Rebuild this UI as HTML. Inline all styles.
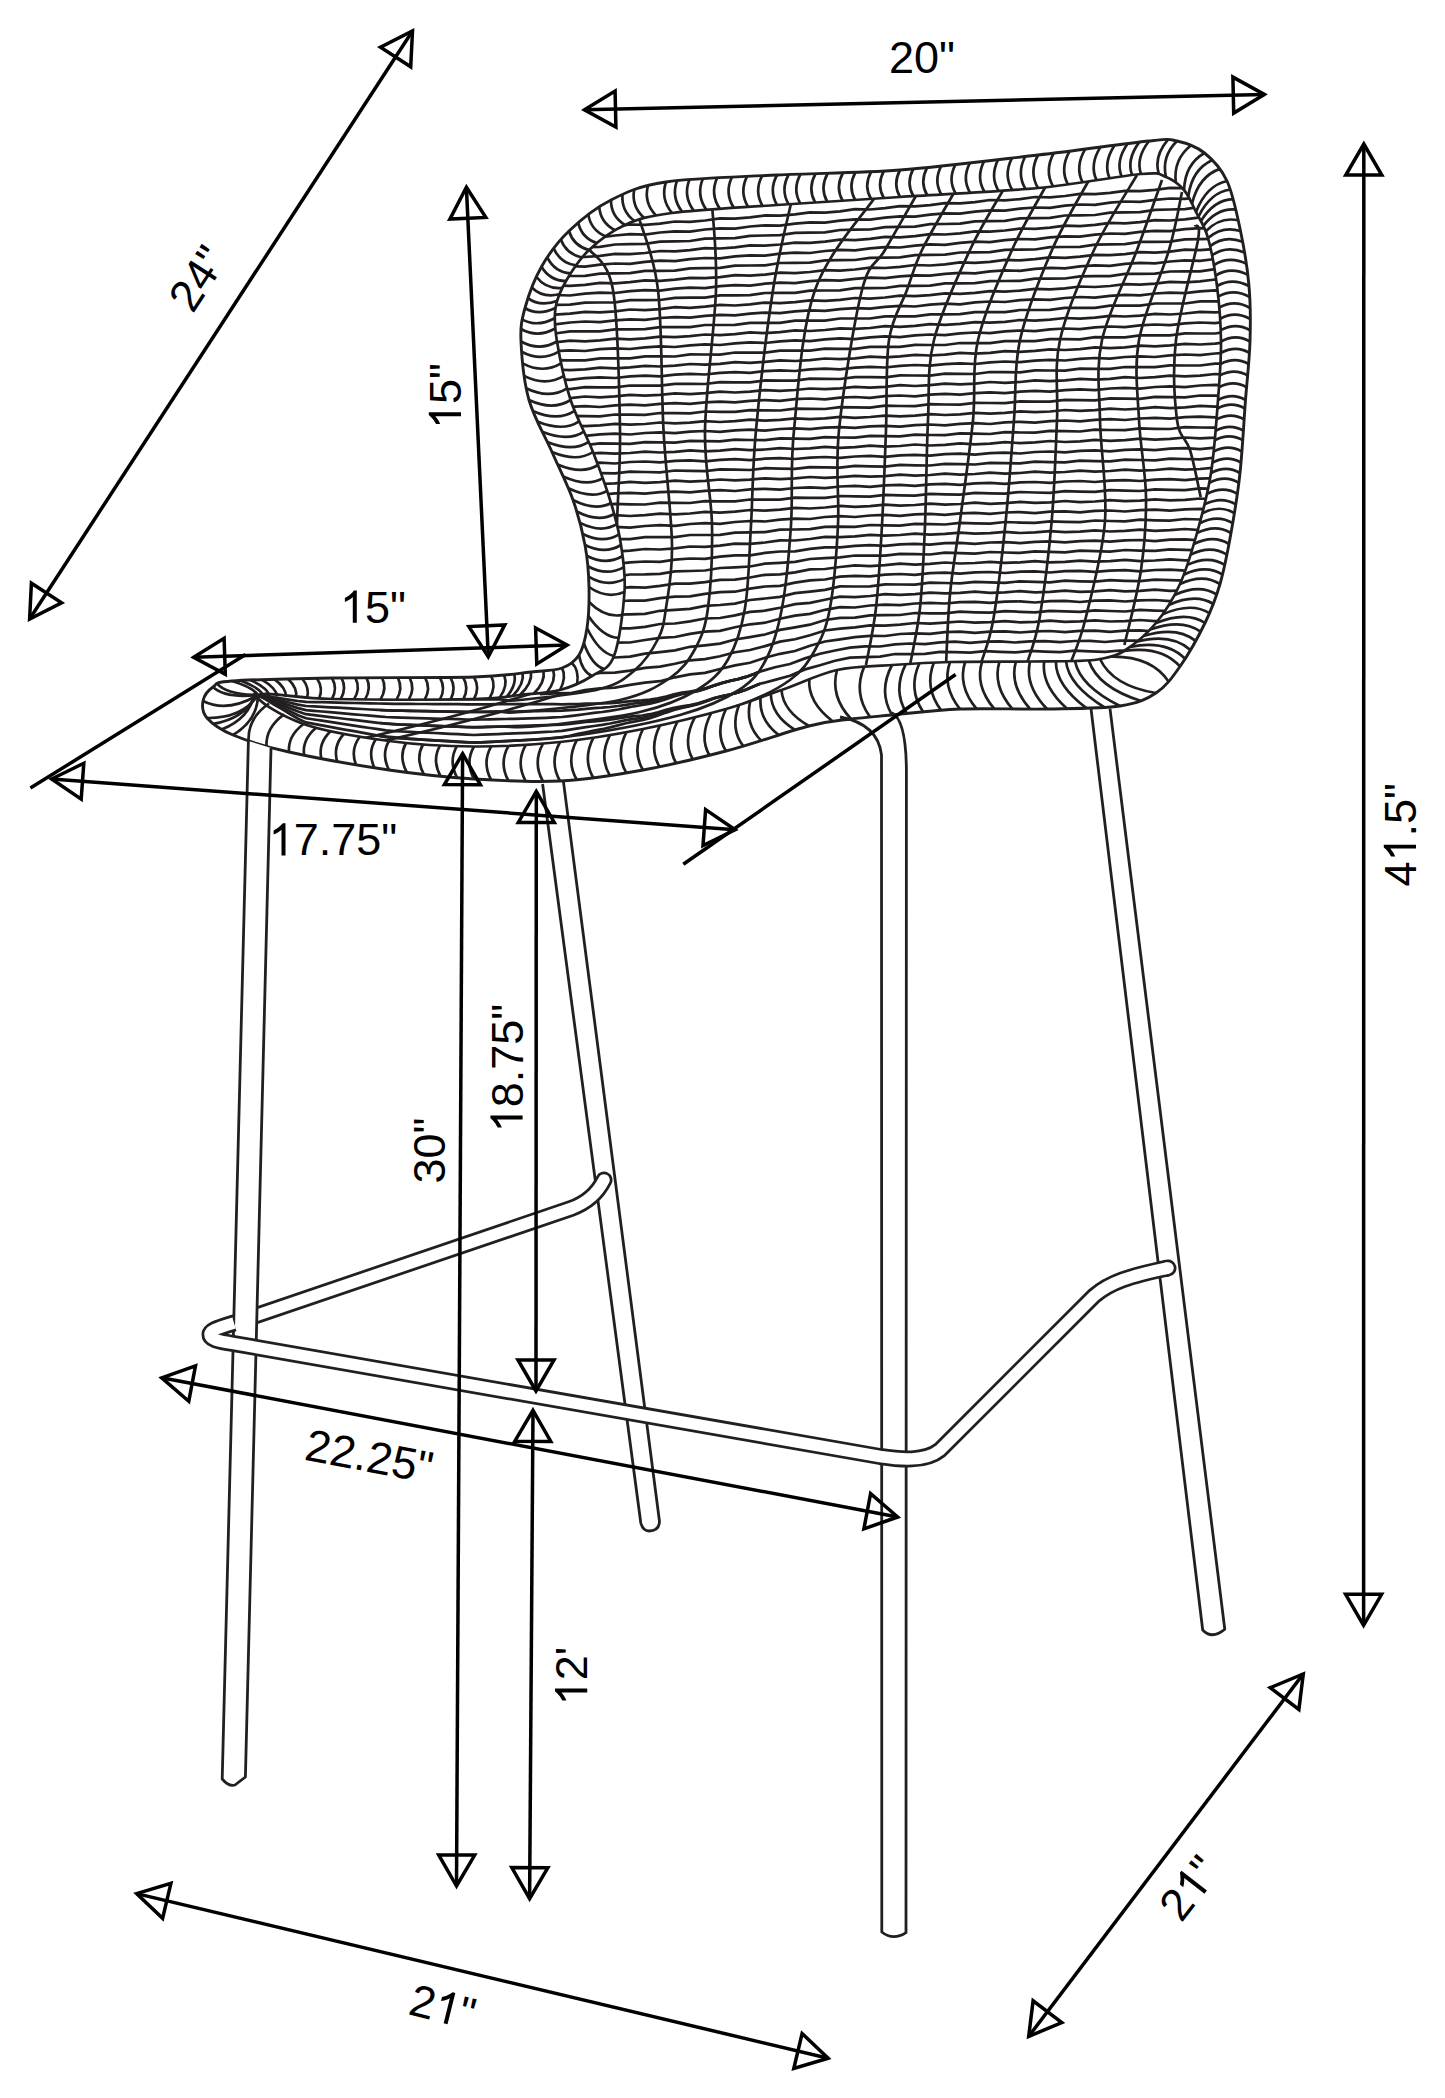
<!DOCTYPE html>
<html><head><meta charset="utf-8"><title>Bar stool dimensions</title>
<style>html,body{margin:0;padding:0;background:#fff;width:1445px;height:2098px;overflow:hidden}
svg{display:block;font-family:"Liberation Sans",sans-serif}</style></head>
<body><svg width="1445" height="2098" viewBox="0 0 1445 2098"><defs><clipPath id="cin"><path d="M258 695 C262.8 690.8 296 698.3 332 699 C368 699.7 442.7 699.7 474 699 C505.3 698.3 505.7 696.5 520 695 C534.3 693.5 548 693.2 560 690 C572 686.8 583 681.7 592 676 C601 670.3 608.6 670 614 656 C619.4 642 623.3 610.5 624.5 592 C625.7 573.5 623.2 559.8 621 545 C618.8 530.2 615.7 518.5 611 503 C606.3 487.5 599.7 469.2 593 452 C586.3 434.8 576.6 418.4 570.6 400 C564.6 381.6 559.5 356.8 557 341.5 C554.5 326.2 554 318.1 555.5 308 C557 297.9 560.4 290.7 566 281 C571.6 271.3 579.2 259.3 589 250 C598.8 240.7 611.2 231.2 625 225 C638.8 218.8 646.7 216.3 672 213 C697.3 209.7 739 207.7 777 205 C815 202.3 856.5 199.8 900 197 C943.5 194.2 997.8 191.8 1038 188 C1078.2 184.2 1119.7 175.8 1141 174 C1162.3 172.2 1158.8 174.3 1166 177 C1173.2 179.7 1179 184.2 1184 190 C1189 195.8 1192 204 1196 212 C1200 220 1204.5 225.7 1208 238 C1211.5 250.3 1214.8 268.8 1217 286 C1219.2 303.2 1220.8 322.5 1221 341.5 C1221.2 360.5 1219.7 378.1 1218 400 C1216.3 421.9 1214.5 450.8 1211 473 C1207.5 495.2 1202.2 514.5 1197 533 C1191.8 551.5 1186.8 569 1180 584 C1173.2 599 1165.3 611.8 1156 623 C1146.7 634.2 1133.3 645 1124 651 C1114.7 657 1108.2 657.3 1100 659 C1091.8 660.7 1086.7 660.6 1075 661 C1063.3 661.4 1050.8 661.3 1030 661.5 C1009.2 661.7 973 661.4 950 662 C927 662.6 910.8 663.7 892 665 C873.2 666.3 855.4 665.8 837 670 C818.6 674.2 800 683.5 781.5 690 C763 696.5 749.1 702.5 726 709 C702.9 715.5 670.7 723.5 643 729 C615.3 734.5 588.2 739.1 560 742 C531.8 744.9 502.5 746.7 474 746.5 C445.5 746.3 417.4 744.8 389 741 C360.6 737.2 325.3 731.7 303.5 724 C281.7 716.3 253.2 699.2 258 695Z"/></clipPath><clipPath id="cout"><path d="M232 681 C251.8 679.5 291.7 678.7 332 678 C372.3 677.3 440.8 678 474 677 C507.2 676 516.3 673.5 531 672 C545.7 670.5 554 670.8 562 668 C570 665.2 574.8 661.7 579 655 C583.2 648.3 585.3 639.3 587 628 C588.7 616.7 589.3 600.8 589 587 C588.7 573.2 587.7 559.5 585 545 C582.3 530.5 578.5 515.5 573 500 C567.5 484.5 559.3 468.7 552 452 C544.7 435.3 534.2 418.4 529 400 C523.8 381.6 521.7 356.8 521 341.5 C520.3 326.2 521.6 320.5 525 308 C528.4 295.5 534.2 279.5 541.5 266.7 C548.8 253.9 557.4 242.1 569 231 C580.6 219.9 594.8 208.2 611 200 C627.2 191.8 638.3 186.2 666 182 C693.7 177.8 738 177 777 175 C816 173 856.5 173.3 900 170 C943.5 166.7 996.5 159.8 1038 155 C1079.5 150.2 1125.8 143.3 1149 141 C1172.2 138.7 1167.8 139 1177 141 C1186.2 143 1196.2 146.3 1204.5 153 C1212.8 159.7 1221 168 1227 181 C1233 194 1236.8 213.5 1240.5 231 C1244.2 248.5 1247.4 267.6 1249 286 C1250.6 304.4 1250.6 322.5 1250 341.5 C1249.4 360.5 1247.2 378.1 1245.5 400 C1243.8 421.9 1242.4 450.8 1240 473 C1237.6 495.2 1234.3 514.5 1231 533 C1227.7 551.5 1224.3 569 1220 584 C1215.7 599 1211.7 609.2 1205 623 C1198.3 636.8 1188.2 654.8 1180 666.5 C1171.8 678.2 1166 686.4 1156 693 C1146 699.6 1138.2 703.3 1120 706 C1101.8 708.7 1073.7 708.5 1047 709 C1020.3 709.5 985.8 708 960 709 C934.2 710 910.2 713.3 892 715 C873.8 716.7 864.8 717.2 851 719 C837.2 720.8 829.8 720.7 809 726 C788.2 731.3 753.7 743.7 726 751 C698.3 758.3 670.7 765 643 770 C615.3 775 588.2 779.5 560 781 C531.8 782.5 502.5 780.8 474 779 C445.5 777.2 419.8 774.5 389 770 C358.2 765.5 315 757.8 289 752 C263 746.2 246.7 740.7 233 735 C219.3 729.3 212 723.7 207 718 C202 712.3 202 706.2 203 701 C204 695.8 208.2 690.3 213 687 C217.8 683.7 212.2 682.5 232 681Z"/></clipPath></defs><g clip-path="url(#cin)" fill="none" stroke="#231f20" stroke-width="2.7"><path d="M540 230.7 L555 230.9 L570 229.7 L585 227.6 L600 227.9 L615 226.6 L630 224.5 L645 224.8 L660 223.6 L675 221.5 L690 221.8 L705 220.5 L720 218.4 L735 218.7 L750 217.4 L765 215.4 L780 215.6 L795 214.4 L810 212.3 L825 212.6 L840 211.3 L855 209.2 L870 209.5 L885 208.2 L900 206.2 L915 206.4 L930 205.2 L945 203.1 L960 203.4 L975 202.1 L990 200 L1005 200.3 L1020 199.1 L1035 197 L1050 197.3 L1065 196 L1080 193.9 L1095 194.2 L1110 192.9 L1125 190.8 L1140 191.1 L1155 189.9 L1170 187.8 L1185 188.1 L1200 186.8 L1215 184.7 L1230 185"/><path d="M540 240.2 L555 240.5 L570 238.5 L585 237.2 L600 237.5 L615 235.5 L630 234.2 L645 234.6 L660 232.5 L675 231.3 L690 231.6 L705 229.5 L720 228.3 L735 228.6 L750 226.5 L765 225.3 L780 225.6 L795 223.6 L810 222.3 L825 222.6 L840 220.6 L855 219.4 L870 219.7 L885 217.6 L900 216.4 L915 216.7 L930 214.6 L945 213.4 L960 213.7 L975 211.7 L990 210.4 L1005 210.7 L1020 208.7 L1035 207.5 L1050 207.8 L1065 205.7 L1080 204.5 L1095 204.8 L1110 202.7 L1125 201.5 L1140 201.8 L1155 199.8 L1170 198.5 L1185 198.8 L1200 196.8 L1215 195.5 L1230 195.9"/><path d="M540 250 L555 249.7 L570 247.4 L585 247.1 L600 246.8 L615 244.5 L630 244.2 L645 243.9 L660 241.6 L675 241.3 L690 241 L705 238.7 L720 238.4 L735 238.1 L750 235.8 L765 235.5 L780 235.2 L795 232.9 L810 232.6 L825 232.4 L840 230 L855 229.7 L870 229.5 L885 227.1 L900 226.9 L915 226.6 L930 224.2 L945 224 L960 223.7 L975 221.3 L990 221.1 L1005 220.8 L1020 218.4 L1035 218.2 L1050 217.9 L1065 215.5 L1080 215.3 L1095 215 L1110 212.7 L1125 212.4 L1140 212.1 L1155 209.8 L1170 209.5 L1185 209.2 L1200 206.9 L1215 206.6 L1230 206.3"/><path d="M540 259.8 L555 258.6 L570 256.6 L585 257 L600 255.8 L615 253.8 L630 254.1 L645 253 L660 251 L675 251.3 L690 250.2 L705 248.2 L720 248.5 L735 247.4 L750 245.4 L765 245.7 L780 244.5 L795 242.6 L810 242.9 L825 241.7 L840 239.7 L855 240.1 L870 238.9 L885 236.9 L900 237.3 L915 236.1 L930 234.1 L945 234.5 L960 233.3 L975 231.3 L990 231.7 L1005 230.5 L1020 228.5 L1035 228.9 L1050 227.7 L1065 225.7 L1080 226.1 L1095 224.9 L1110 222.9 L1125 223.3 L1140 222.1 L1155 220.1 L1170 220.5 L1185 219.3 L1200 217.3 L1215 217.7 L1230 216.5"/><path d="M540 269.3 L555 267.3 L570 266.2 L585 266.6 L600 264.6 L615 263.5 L630 263.9 L645 261.9 L660 260.7 L675 261.1 L690 259.2 L705 258 L720 258.4 L735 256.4 L750 255.3 L765 255.7 L780 253.7 L795 252.6 L810 253 L825 251 L840 249.9 L855 250.3 L870 248.3 L885 247.1 L900 247.5 L915 245.6 L930 244.4 L945 244.8 L960 242.8 L975 241.7 L990 242.1 L1005 240.1 L1020 239 L1035 239.4 L1050 237.4 L1065 236.3 L1080 236.6 L1095 234.7 L1110 233.5 L1125 233.9 L1140 231.9 L1155 230.8 L1170 231.2 L1185 229.2 L1200 228.1 L1215 228.5 L1230 226.5"/><path d="M540 278.5 L555 276.2 L570 276 L585 275.8 L600 273.6 L615 273.4 L630 273.2 L645 270.9 L660 270.8 L675 270.6 L690 268.3 L705 268.1 L720 267.9 L735 265.7 L750 265.5 L765 265.3 L780 263 L795 262.9 L810 262.7 L825 260.4 L840 260.2 L855 260 L870 257.8 L885 257.6 L900 257.4 L915 255.1 L930 254.9 L945 254.7 L960 252.5 L975 252.3 L990 252.1 L1005 249.8 L1020 249.7 L1035 249.5 L1050 247.2 L1065 247 L1080 246.8 L1095 244.6 L1110 244.4 L1125 244.2 L1140 241.9 L1155 241.8 L1170 241.6 L1185 239.3 L1200 239.1 L1215 238.9 L1230 236.7"/><path d="M540 287.3 L555 285.4 L570 285.9 L585 284.8 L600 282.9 L615 283.3 L630 282.2 L645 280.3 L660 280.8 L675 279.7 L690 277.8 L705 278.2 L720 277.1 L735 275.2 L750 275.7 L765 274.6 L780 272.7 L795 273.1 L810 272 L825 270.1 L840 270.6 L855 269.5 L870 267.6 L885 268 L900 266.9 L915 265 L930 265.5 L945 264.4 L960 262.4 L975 262.9 L990 261.8 L1005 259.9 L1020 260.4 L1035 259.2 L1050 257.3 L1065 257.8 L1080 256.7 L1095 254.8 L1110 255.2 L1125 254.1 L1140 252.2 L1155 252.7 L1170 251.6 L1185 249.7 L1200 250.1 L1215 249 L1230 247.1"/><path d="M540 296.1 L555 295 L570 295.5 L585 293.6 L600 292.6 L615 293 L630 291.1 L645 290.1 L660 290.6 L675 288.7 L690 287.6 L705 288.1 L720 286.2 L735 285.1 L750 285.6 L765 283.7 L780 282.7 L795 283.1 L810 281.2 L825 280.2 L840 280.7 L855 278.8 L870 277.7 L885 278.2 L900 276.3 L915 275.3 L930 275.7 L945 273.8 L960 272.8 L975 273.3 L990 271.4 L1005 270.3 L1020 270.8 L1035 268.9 L1050 267.8 L1065 268.3 L1080 266.4 L1095 265.4 L1110 265.8 L1125 263.9 L1140 262.9 L1155 263.4 L1170 261.5 L1185 260.4 L1200 260.9 L1215 259 L1230 258"/><path d="M540 305 L555 304.9 L570 304.7 L585 302.6 L600 302.5 L615 302.4 L630 300.2 L645 300.1 L660 300 L675 297.8 L690 297.7 L705 297.6 L720 295.4 L735 295.3 L750 295.2 L765 293 L780 292.9 L795 292.8 L810 290.6 L825 290.5 L840 290.4 L855 288.2 L870 288.1 L885 288 L900 285.8 L915 285.8 L930 285.6 L945 283.4 L960 283.4 L975 283.2 L990 281.1 L1005 281 L1020 280.9 L1035 278.7 L1050 278.6 L1065 278.5 L1080 276.3 L1095 276.2 L1110 276.1 L1125 273.9 L1140 273.8 L1155 273.7 L1170 271.5 L1185 271.4 L1200 271.3 L1215 269.1 L1230 269"/><path d="M540 314.2 L555 314.7 L570 313.7 L585 311.9 L600 312.4 L615 311.4 L630 309.5 L645 310.1 L660 309.1 L675 307.2 L690 307.8 L705 306.7 L720 304.9 L735 305.5 L750 304.4 L765 302.6 L780 303.2 L795 302.1 L810 300.3 L825 300.9 L840 299.8 L855 298 L870 298.6 L885 297.5 L900 295.7 L915 296.2 L930 295.2 L945 293.4 L960 293.9 L975 292.9 L990 291.1 L1005 291.6 L1020 290.6 L1035 288.8 L1050 289.3 L1065 288.3 L1080 286.5 L1095 287 L1110 286 L1125 284.2 L1140 284.7 L1155 283.7 L1170 281.9 L1185 282.4 L1200 281.4 L1215 279.5 L1230 280.1"/><path d="M540 323.8 L555 324.3 L570 322.5 L585 321.5 L600 322.1 L615 320.3 L630 319.3 L645 319.8 L660 318 L675 317.1 L690 317.6 L705 315.8 L720 314.8 L735 315.4 L750 313.6 L765 312.6 L780 313.2 L795 311.3 L810 310.4 L825 310.9 L840 309.1 L855 308.2 L870 308.7 L885 306.9 L900 305.9 L915 306.5 L930 304.7 L945 303.7 L960 304.3 L975 302.4 L990 301.5 L1005 302 L1020 300.2 L1035 299.3 L1050 299.8 L1065 298 L1080 297 L1095 297.6 L1110 295.8 L1125 294.8 L1140 295.3 L1155 293.5 L1170 292.6 L1185 293.1 L1200 291.3 L1215 290.3 L1230 290.9"/><path d="M540 333.6 L555 333.5 L570 331.4 L585 331.4 L600 331.4 L615 329.3 L630 329.3 L645 329.2 L660 327.1 L675 327.1 L690 327.1 L705 325 L720 325 L735 324.9 L750 322.8 L765 322.8 L780 322.8 L795 320.7 L810 320.7 L825 320.6 L840 318.5 L855 318.5 L870 318.5 L885 316.4 L900 316.4 L915 316.4 L930 314.3 L945 314.3 L960 314.2 L975 312.1 L990 312.1 L1005 312.1 L1020 310 L1035 310 L1050 309.9 L1065 307.8 L1080 307.8 L1095 307.8 L1110 305.7 L1125 305.7 L1140 305.6 L1155 303.5 L1170 303.5 L1185 303.5 L1200 301.4 L1215 301.4 L1230 301.3"/><path d="M540 343.4 L555 342.4 L570 340.7 L585 341.3 L600 340.4 L615 338.6 L630 339.3 L645 338.3 L660 336.6 L675 337.2 L690 336.2 L705 334.5 L720 335.1 L735 334.2 L750 332.4 L765 333.1 L780 332.1 L795 330.4 L810 331 L825 330 L840 328.3 L855 328.9 L870 328 L885 326.2 L900 326.9 L915 325.9 L930 324.2 L945 324.8 L960 323.8 L975 322.1 L990 322.7 L1005 321.8 L1020 320 L1035 320.7 L1050 319.7 L1065 318 L1080 318.6 L1095 317.6 L1110 315.9 L1125 316.5 L1140 315.6 L1155 313.8 L1170 314.5 L1185 313.5 L1200 311.8 L1215 312.4 L1230 311.4"/><path d="M540 353 L555 351.2 L570 350.4 L585 351 L600 349.2 L615 348.4 L630 349 L645 347.3 L660 346.4 L675 347 L690 345.3 L705 344.4 L720 345 L735 343.3 L750 342.4 L765 343 L780 341.3 L795 340.4 L810 341.1 L825 339.3 L840 338.4 L855 339.1 L870 337.3 L885 336.4 L900 337.1 L915 335.3 L930 334.5 L945 335.1 L960 333.3 L975 332.5 L990 333.1 L1005 331.3 L1020 330.5 L1035 331.1 L1050 329.4 L1065 328.5 L1080 329.1 L1095 327.4 L1110 326.5 L1125 327.1 L1140 325.4 L1155 324.5 L1170 325.1 L1185 323.4 L1200 322.5 L1215 323.1 L1230 321.4"/><path d="M540 362.2 L555 360.2 L570 360.3 L585 360.3 L600 358.3 L615 358.4 L630 358.4 L645 356.4 L660 356.4 L675 356.5 L690 354.4 L705 354.5 L720 354.6 L735 352.5 L750 352.6 L765 352.6 L780 350.6 L795 350.7 L810 350.7 L825 348.7 L840 348.8 L855 348.8 L870 346.8 L885 346.9 L900 346.9 L915 344.9 L930 345 L945 345 L960 343 L975 343.1 L990 343.1 L1005 341.1 L1020 341.2 L1035 341.2 L1050 339.2 L1065 339.2 L1080 339.3 L1095 337.2 L1110 337.3 L1125 337.4 L1140 335.3 L1155 335.4 L1170 335.4 L1185 333.4 L1200 333.5 L1215 333.5 L1230 331.5"/><path d="M540 371.1 L555 369.5 L570 370.2 L585 369.3 L600 367.6 L615 368.3 L630 367.4 L645 365.8 L660 366.5 L675 365.6 L690 364 L705 364.7 L720 363.8 L735 362.1 L750 362.8 L765 361.9 L780 360.3 L795 361 L810 360.1 L825 358.5 L840 359.2 L855 358.3 L870 356.6 L885 357.3 L900 356.4 L915 354.8 L930 355.5 L945 354.6 L960 352.9 L975 353.7 L990 352.8 L1005 351.1 L1020 351.8 L1035 350.9 L1050 349.3 L1065 350 L1080 349.1 L1095 347.4 L1110 348.2 L1125 347.3 L1140 345.6 L1155 346.3 L1170 345.4 L1185 343.8 L1200 344.5 L1215 343.6 L1230 341.9"/><path d="M540 379.9 L555 379.1 L570 379.8 L585 378.1 L600 377.3 L615 378 L630 376.4 L645 375.6 L660 376.3 L675 374.6 L690 373.8 L705 374.5 L720 372.9 L735 372.1 L750 372.8 L765 371.1 L780 370.3 L795 371 L810 369.3 L825 368.6 L840 369.3 L855 367.6 L870 366.8 L885 367.5 L900 365.8 L915 365 L930 365.7 L945 364.1 L960 363.3 L975 364 L990 362.3 L1005 361.5 L1020 362.2 L1035 360.6 L1050 359.8 L1065 360.5 L1080 358.8 L1095 358 L1110 358.7 L1125 357 L1140 356.3 L1155 357 L1170 355.3 L1185 354.5 L1200 355.2 L1215 353.5 L1230 352.7"/><path d="M540 388.8 L555 389 L570 389.1 L585 387.1 L600 387.3 L615 387.4 L630 385.5 L645 385.6 L660 385.7 L675 383.8 L690 383.9 L705 384 L720 382.1 L735 382.3 L750 382.4 L765 380.4 L780 380.6 L795 380.7 L810 378.7 L825 378.9 L840 379 L855 377.1 L870 377.2 L885 377.3 L900 375.4 L915 375.5 L930 375.6 L945 373.7 L960 373.9 L975 374 L990 372 L1005 372.2 L1020 372.3 L1035 370.3 L1050 370.5 L1065 370.6 L1080 368.6 L1095 368.8 L1110 368.9 L1125 367 L1140 367.1 L1155 367.2 L1170 365.3 L1185 365.5 L1200 365.5 L1215 363.6 L1230 363.8"/><path d="M540 398.1 L555 398.9 L570 398.1 L585 396.5 L600 397.3 L615 396.4 L630 394.9 L645 395.7 L660 394.8 L675 393.3 L690 394.1 L705 393.2 L720 391.7 L735 392.5 L750 391.6 L765 390.1 L780 390.8 L795 390 L810 388.5 L825 389.2 L840 388.4 L855 386.8 L870 387.6 L885 386.8 L900 385.2 L915 386 L930 385.2 L945 383.6 L960 384.4 L975 383.6 L990 382 L1005 382.8 L1020 382 L1035 380.4 L1050 381.2 L1065 380.4 L1080 378.8 L1095 379.6 L1110 378.8 L1125 377.2 L1140 378 L1155 377.2 L1170 375.6 L1185 376.4 L1200 375.6 L1215 374 L1230 374.8"/><path d="M540 407.7 L555 408.5 L570 406.9 L585 406.2 L600 407 L615 405.4 L630 404.7 L645 405.4 L660 403.8 L675 403.1 L690 403.9 L705 402.3 L720 401.6 L735 402.4 L750 400.8 L765 400.1 L780 400.9 L795 399.2 L810 398.5 L825 399.3 L840 397.7 L855 397 L870 397.8 L885 396.2 L900 395.5 L915 396.3 L930 394.6 L945 393.9 L960 394.7 L975 393.1 L990 392.4 L1005 393.2 L1020 391.6 L1035 390.9 L1050 391.7 L1065 390.1 L1080 389.4 L1095 390.1 L1110 388.5 L1125 387.8 L1140 388.6 L1155 387 L1170 386.3 L1185 387.1 L1200 385.5 L1215 384.8 L1230 385.5"/><path d="M540 417.6 L555 417.8 L570 415.9 L585 416.2 L600 416.3 L615 414.5 L630 414.7 L645 414.9 L660 413 L675 413.2 L690 413.4 L705 411.5 L720 411.8 L735 411.9 L750 410.1 L765 410.3 L780 410.5 L795 408.6 L810 408.9 L825 409 L840 407.2 L855 407.4 L870 407.6 L885 405.7 L900 406 L915 406.1 L930 404.2 L945 404.5 L960 404.7 L975 402.8 L990 403 L1005 403.2 L1020 401.3 L1035 401.6 L1050 401.7 L1065 399.9 L1080 400.1 L1095 400.3 L1110 398.4 L1125 398.7 L1140 398.8 L1155 396.9 L1170 397.2 L1185 397.4 L1200 395.5 L1215 395.7 L1230 395.9"/><path d="M540 427.5 L555 426.7 L570 425.3 L585 426.1 L600 425.4 L615 423.9 L630 424.7 L645 424 L660 422.5 L675 423.3 L690 422.6 L705 421.1 L720 422 L735 421.2 L750 419.7 L765 420.6 L780 419.8 L795 418.3 L810 419.2 L825 418.4 L840 416.9 L855 417.8 L870 417 L885 415.6 L900 416.4 L915 415.7 L930 414.2 L945 415 L960 414.3 L975 412.8 L990 413.6 L1005 412.9 L1020 411.4 L1035 412.2 L1050 411.5 L1065 410 L1080 410.9 L1095 410.1 L1110 408.6 L1125 409.5 L1140 408.7 L1155 407.2 L1170 408.1 L1185 407.3 L1200 405.8 L1215 406.7 L1230 405.9"/><path d="M540 437.1 L555 435.6 L570 435 L585 435.8 L600 434.3 L615 433.7 L630 434.5 L645 433 L660 432.3 L675 433.2 L690 431.6 L705 431 L720 431.9 L735 430.3 L750 429.7 L765 430.6 L780 429 L795 428.4 L810 429.2 L825 427.7 L840 427.1 L855 427.9 L870 426.4 L885 425.8 L900 426.6 L915 425.1 L930 424.5 L945 425.3 L960 423.8 L975 423.1 L990 424 L1005 422.4 L1020 421.8 L1035 422.7 L1050 421.1 L1065 420.5 L1080 421.4 L1095 419.8 L1110 419.2 L1125 420 L1140 418.5 L1155 417.9 L1170 418.7 L1185 417.2 L1200 416.6 L1215 417.4 L1230 415.9"/><path d="M540 446.4 L555 444.6 L570 444.9 L585 445.1 L600 443.4 L615 443.7 L630 443.9 L645 442.1 L660 442.4 L675 442.7 L690 440.9 L705 441.2 L720 441.4 L735 439.6 L750 440 L765 440.2 L780 438.4 L795 438.7 L810 438.9 L825 437.1 L840 437.5 L855 437.7 L870 435.9 L885 436.2 L900 436.4 L915 434.6 L930 435 L945 435.2 L960 433.4 L975 433.7 L990 434 L1005 432.2 L1020 432.5 L1035 432.7 L1050 430.9 L1065 431.2 L1080 431.5 L1095 429.7 L1110 430 L1125 430.2 L1140 428.4 L1155 428.8 L1170 429 L1185 427.2 L1200 427.5 L1215 427.7 L1230 425.9"/><path d="M540 455.3 L555 453.9 L570 454.9 L585 454.2 L600 452.8 L615 453.7 L630 453 L645 451.6 L660 452.5 L675 451.8 L690 450.4 L705 451.3 L720 450.7 L735 449.2 L750 450.2 L765 449.5 L780 448.1 L795 449 L810 448.3 L825 446.9 L840 447.8 L855 447.1 L870 445.7 L885 446.6 L900 446 L915 444.5 L930 445.5 L945 444.8 L960 443.4 L975 444.3 L990 443.6 L1005 442.2 L1020 443.1 L1035 442.4 L1050 441 L1065 442 L1080 441.3 L1095 439.8 L1110 440.8 L1125 440.1 L1140 438.7 L1155 439.6 L1170 438.9 L1185 437.5 L1200 438.4 L1215 437.7 L1230 436.3"/><path d="M540 464.2 L555 463.7 L570 464.6 L585 463.1 L600 462.6 L615 463.5 L630 462 L645 461.5 L660 462.4 L675 460.9 L690 460.4 L705 461.3 L720 459.8 L735 459.2 L750 460.2 L765 458.7 L780 458.1 L795 459 L810 457.6 L825 457 L840 457.9 L855 456.5 L870 455.9 L885 456.8 L900 455.4 L915 454.8 L930 455.7 L945 454.2 L960 453.7 L975 454.6 L990 453.1 L1005 452.6 L1020 453.5 L1035 452 L1050 451.5 L1065 452.4 L1080 450.9 L1095 450.4 L1110 451.3 L1125 449.8 L1140 449.3 L1155 450.2 L1170 448.7 L1185 448.2 L1200 449.1 L1215 447.6 L1230 447.1"/><path d="M540 473.8 L555 474.2 L570 474.5 L585 472.7 L600 473.1 L615 473.4 L630 471.6 L645 472 L660 472.3 L675 470.5 L690 470.9 L705 471.1 L720 469.4 L735 469.7 L750 470 L765 468.2 L780 468.6 L795 468.8 L810 467.1 L825 467.4 L840 467.7 L855 465.9 L870 466.3 L885 466.6 L900 464.9 L915 465.3 L930 465.5 L945 463.8 L960 464.2 L975 464.5 L990 462.8 L1005 463.2 L1020 463.4 L1035 461.7 L1050 462.1 L1065 462.4 L1080 460.7 L1095 461.1 L1110 461.3 L1125 459.6 L1140 460 L1155 460.3 L1170 458.6 L1185 459 L1200 459.3 L1215 457.5 L1230 457.9"/><path d="M540 484.1 L555 485.1 L570 484.4 L585 483 L600 484 L615 483.3 L630 481.9 L645 482.8 L660 482.1 L675 480.7 L690 481.7 L705 480.9 L720 479.5 L735 480.4 L750 479.7 L765 478.3 L780 479.2 L795 478.4 L810 477 L825 477.8 L840 477.1 L855 475.8 L870 476.7 L885 476.1 L900 474.7 L915 475.7 L930 475 L945 473.7 L960 474.6 L975 474 L990 472.7 L1005 473.7 L1020 473 L1035 471.7 L1050 472.7 L1065 472 L1080 470.7 L1095 471.7 L1110 471 L1125 469.7 L1140 470.7 L1155 470 L1170 468.7 L1185 469.7 L1200 469 L1215 467.7 L1230 468.7"/><path d="M540 495.1 L555 496.1 L570 494.6 L585 494 L600 494.9 L615 493.4 L630 492.8 L645 493.7 L660 492.2 L675 491.6 L690 492.4 L705 490.8 L720 490.2 L735 491 L750 489.4 L765 488.8 L780 489.6 L795 488 L810 487.3 L825 488.1 L840 486.5 L855 485.9 L870 486.9 L885 485.4 L900 484.9 L915 485.8 L930 484.4 L945 483.9 L960 484.8 L975 483.4 L990 482.9 L1005 483.9 L1020 482.4 L1035 482 L1050 482.9 L1065 481.5 L1080 481 L1095 482 L1110 480.6 L1125 480.1 L1140 481 L1155 479.6 L1170 479.1 L1185 480.1 L1200 478.7 L1215 478.2 L1230 479.2"/><path d="M540 506.7 L555 507 L570 505.2 L585 505.6 L600 505.8 L615 503.9 L630 504.3 L645 504.5 L660 502.6 L675 502.9 L690 503 L705 501.1 L720 501.4 L735 501.4 L750 499.5 L765 499.7 L780 499.7 L795 497.7 L810 497.9 L825 497.9 L840 496 L855 496.4 L870 496.6 L885 494.9 L900 495.3 L915 495.6 L930 493.8 L945 494.3 L960 494.6 L975 492.9 L990 493.4 L1005 493.7 L1020 492 L1035 492.5 L1050 492.8 L1065 491.1 L1080 491.6 L1095 491.9 L1110 490.2 L1125 490.7 L1140 491 L1155 489.3 L1170 489.8 L1185 490.1 L1200 488.4 L1215 488.9 L1230 489.2"/><path d="M540 518.6 L555 517.9 L570 516.5 L585 517.4 L600 516.6 L615 515.1 L630 516 L645 515.2 L660 513.6 L675 514.3 L690 513.5 L705 511.9 L720 512.6 L735 511.7 L750 510 L765 510.6 L780 509.6 L795 507.9 L810 508.5 L825 507.5 L840 505.9 L855 506.8 L870 506.1 L885 504.7 L900 505.7 L915 505 L930 503.7 L945 504.6 L960 504 L975 502.7 L990 503.8 L1005 503.2 L1020 501.9 L1035 502.9 L1050 502.3 L1065 501 L1080 502.1 L1095 501.5 L1110 500.2 L1125 501.2 L1140 500.6 L1155 499.3 L1170 500.4 L1185 499.8 L1200 498.5 L1215 499.5 L1230 498.9"/><path d="M540 530.5 L555 529 L570 528.4 L585 529.2 L600 527.5 L615 526.9 L630 527.6 L645 526 L660 525.2 L675 525.8 L690 524 L705 523.2 L720 523.9 L735 522 L750 521 L765 521.5 L780 519.6 L795 518.6 L810 519 L825 517 L840 516.1 L855 517 L870 515.5 L885 514.9 L900 515.8 L915 514.3 L930 513.8 L945 514.8 L960 513.3 L975 512.9 L990 513.9 L1005 512.5 L1020 512.1 L1035 513.1 L1050 511.7 L1065 511.3 L1080 512.3 L1095 510.9 L1110 510.5 L1125 511.5 L1140 510.1 L1155 509.7 L1170 510.7 L1185 509.3 L1200 508.9 L1215 509.9 L1230 508.5"/><path d="M540 542.3 L555 540.6 L570 540.9 L585 540.9 L600 539 L615 539.2 L630 539.2 L645 537.2 L660 537.2 L675 537.1 L690 535 L705 535 L720 534.9 L735 532.6 L750 532.4 L765 532.1 L780 529.7 L795 529.5 L810 529.1 L825 526.8 L840 526.6 L855 526.8 L870 525 L885 525.3 L900 525.6 L915 523.8 L930 524.2 L945 524.5 L960 522.8 L975 523.3 L990 523.7 L1005 522 L1020 522.6 L1035 522.9 L1050 521.3 L1065 521.8 L1080 522.2 L1095 520.5 L1110 521 L1125 521.4 L1140 519.7 L1155 520.3 L1170 520.6 L1185 519 L1200 519.5 L1215 519.8 L1230 518.2"/><path d="M540 554.2 L555 552.8 L570 553.6 L585 552.6 L600 551 L615 551.7 L630 550.7 L645 549 L660 549.5 L675 548.3 L690 546.5 L705 546.9 L720 545.7 L735 543.7 L750 543.9 L765 542.5 L780 540.4 L795 540.5 L810 539 L825 536.9 L840 537.2 L855 536.4 L870 534.9 L885 535.7 L900 535 L915 533.6 L930 534.6 L945 533.9 L960 532.6 L975 533.7 L990 533.1 L1005 531.9 L1020 533 L1035 532.4 L1050 531.2 L1065 532.2 L1080 531.7 L1095 530.4 L1110 531.5 L1125 530.9 L1140 529.7 L1155 530.8 L1170 530.2 L1185 529 L1200 530.1 L1215 529.5 L1230 528.2"/><path d="M540 566.2 L555 565.7 L570 566.4 L585 564.5 L600 563.7 L615 564.2 L630 562.4 L645 561.5 L660 561.8 L675 559.7 L690 558.5 L705 558.8 L720 556.7 L735 555.4 L750 555.3 L765 552.9 L780 551.5 L795 551.4 L810 548.9 L825 547.4 L840 547.4 L855 545.8 L870 545.2 L885 545.9 L900 544.4 L915 543.8 L930 544.7 L945 543.2 L960 542.8 L975 543.8 L990 542.5 L1005 542.1 L1020 543.1 L1035 541.8 L1050 541.4 L1065 542.4 L1080 541.1 L1095 540.7 L1110 541.7 L1125 540.4 L1140 540 L1155 541.1 L1170 539.7 L1185 539.3 L1200 540.4 L1215 539 L1230 538.6"/><path d="M540 578.8 L555 579.1 L570 579.1 L585 576.9 L600 576.8 L615 576.7 L630 574.5 L645 574.4 L660 573.9 L675 571.4 L690 571 L705 570.5 L720 568 L735 567.4 L750 566.5 L765 563.6 L780 562.9 L795 561.9 L810 559 L825 558.1 L840 557.4 L855 555.5 L870 555.7 L885 555.7 L900 553.9 L915 554.2 L930 554.5 L945 552.7 L960 553.2 L975 553.6 L990 552 L1005 552.5 L1020 552.9 L1035 551.3 L1050 551.9 L1065 552.3 L1080 550.6 L1095 551.2 L1110 551.6 L1125 550 L1140 550.6 L1155 550.9 L1170 549.3 L1185 549.9 L1200 550.3 L1215 548.7 L1230 549.2"/><path d="M540 591.9 L555 592.8 L570 591.8 L585 589.9 L600 590.3 L615 589.1 L630 587.2 L645 587.6 L660 585.9 L675 583.7 L690 583.7 L705 582.1 L720 579.8 L735 579.6 L750 577.5 L765 574.8 L780 574.4 L795 572.3 L810 569.4 L825 569 L840 567 L855 565.4 L870 566.2 L885 565.2 L900 563.7 L915 564.6 L930 563.9 L945 562.5 L960 563.5 L975 563 L990 561.8 L1005 562.9 L1020 562.4 L1035 561.2 L1050 562.3 L1065 561.8 L1080 560.6 L1095 561.7 L1110 561.1 L1125 559.9 L1140 561.1 L1155 560.5 L1170 559.3 L1185 560.4 L1200 559.9 L1215 558.7 L1230 559.8"/><path d="M540 605.8 L555 606.6 L570 604.7 L585 603.5 L600 603.8 L615 601.7 L630 600.5 L645 600.7 L660 598.1 L675 596.6 L690 596.4 L705 593.8 L720 592.2 L735 591.7 L750 588.6 L765 586.5 L780 585.8 L795 582.6 L810 580.4 L825 579.5 L840 576.6 L855 575.8 L870 576.4 L885 574.7 L900 574 L915 574.8 L930 573.2 L945 572.6 L960 573.6 L975 572.3 L990 572 L1005 573 L1020 571.7 L1035 571.4 L1050 572.5 L1065 571.2 L1080 570.8 L1095 571.9 L1110 570.6 L1125 570.2 L1140 571.3 L1155 570 L1170 569.7 L1185 570.7 L1200 569.4 L1215 569.1 L1230 570.2"/><path d="M540 620.2 L555 620.3 L570 618 L585 617.7 L600 617.2 L615 614.7 L630 614.3 L645 613.8 L660 610.8 L675 609.9 L690 608.9 L705 605.9 L720 605 L735 603.6 L750 600 L765 598.5 L780 596.9 L795 593.2 L810 591.6 L825 589.8 L840 586.4 L855 586.5 L870 586.4 L885 584.3 L900 584.5 L915 584.6 L930 582.7 L945 583 L960 583.4 L975 581.8 L990 582.4 L1005 582.8 L1020 581.3 L1035 581.9 L1050 582.3 L1065 580.7 L1080 581.3 L1095 581.7 L1110 580.2 L1125 580.8 L1140 581.2 L1155 579.6 L1170 580.2 L1185 580.7 L1200 579.1 L1215 579.7 L1230 580.1"/><path d="M540 634.9 L555 634 L570 632.1 L585 632.1 L600 630.6 L615 628.3 L630 628.4 L645 626.8 L660 624 L675 623.5 L690 621.3 L705 618.5 L720 618 L735 615.4 L750 611.9 L765 610.7 L780 607.8 L795 604.2 L810 602.8 L825 599.8 L840 596.6 L855 597.1 L870 596 L885 594.2 L900 594.9 L915 594.1 L930 592.6 L945 593.4 L960 592.8 L975 591.6 L990 592.8 L1005 592.3 L1020 591.1 L1035 592.3 L1050 591.8 L1065 590.6 L1080 591.8 L1095 591.3 L1110 590.1 L1125 591.3 L1140 590.8 L1155 589.6 L1170 590.8 L1185 590.3 L1200 589.1 L1215 590.3 L1230 589.8"/><path d="M540 649.7 L555 648 L570 646.8 L585 646.7 L600 644.2 L615 642.7 L630 642.5 L645 640 L660 637.8 L675 637 L690 633.9 L705 631.7 L720 630.9 L735 627.3 L750 624.3 L765 622.7 L780 618.7 L795 615.6 L810 613.9 L825 609.8 L840 607.1 L855 607.5 L870 605.5 L885 604.6 L900 605.1 L915 603.5 L930 602.8 L945 603.5 L960 602.1 L975 601.8 L990 602.9 L1005 601.7 L1020 601.4 L1035 602.5 L1050 601.2 L1065 600.9 L1080 602 L1095 600.7 L1110 600.4 L1125 601.5 L1140 600.3 L1155 600 L1170 601.1 L1185 599.8 L1200 599.5 L1215 600.6 L1230 599.3"/><path d="M540 664.4 L555 662.4 L570 662 L585 661.1 L600 658.2 L615 657.5 L630 656.6 L645 653.6 L660 652.1 L675 650.4 L690 646.8 L705 645.3 L720 643.6 L735 639.5 L750 637.1 L765 634.5 L780 629.9 L795 627.4 L810 624.7 L825 620 L840 617.9 L855 617.6 L870 615.3 L885 615.1 L900 615 L915 613 L930 613.3 L945 613.3 L960 611.6 L975 612.3 L990 612.7 L1005 611.2 L1020 611.8 L1035 612.3 L1050 610.8 L1065 611.4 L1080 611.9 L1095 610.4 L1110 611 L1125 611.5 L1140 609.9 L1155 610.6 L1170 611 L1185 609.5 L1200 610.2 L1215 610.6 L1230 609.1"/><path d="M540 679.1 L555 677.5 L570 677.6 L585 675.5 L600 672.9 L615 672.6 L630 670.6 L645 667.8 L660 666.6 L675 663.8 L690 660.3 L705 659.1 L720 656.3 L735 652.2 L750 650 L765 646.1 L780 641.6 L795 639.3 L810 635.2 L825 630.5 L840 628.7 L855 627.4 L870 625.4 L885 625.7 L900 624.6 L915 623 L930 623.7 L945 622.7 L960 621.5 L975 622.7 L990 622.2 L1005 621.1 L1020 622.3 L1035 621.8 L1050 620.7 L1065 621.9 L1080 621.4 L1095 620.3 L1110 621.5 L1125 621.1 L1140 620 L1155 621.2 L1170 620.7 L1185 619.6 L1200 620.8 L1215 620.3 L1230 619.2"/><path d="M540 694.1 L555 693.3 L570 693.2 L585 690.2 L600 688.3 L615 687.7 L630 684.8 L645 682.7 L660 681.2 L675 677.3 L690 674.4 L705 672.9 L720 669 L735 665.4 L750 662.8 L765 657.8 L780 653.8 L795 651 L810 645.7 L825 641.5 L840 639.3 L855 637.1 L870 635.9 L885 636 L900 634 L915 633.3 L930 633.9 L945 632.1 L960 631.7 L975 632.8 L990 631.6 L1005 631.4 L1020 632.5 L1035 631.3 L1050 631 L1065 632.2 L1080 630.9 L1095 630.7 L1110 631.8 L1125 630.6 L1140 630.4 L1155 631.5 L1170 630.3 L1185 630 L1200 631.2 L1215 629.9 L1230 629.7"/><path d="M760 671.6 L775 667.2 L790 664 L805 658.4 L820 653.7 L835 650.5 L850 647.7 L865 646.4 L880 646.5 L895 644.3 L910 643.5 L925 644.1 L940 642.3 L955 641.6 L970 642.8 L985 641.6 L1000 641.4 L1015 642.5 L1030 641.3 L1045 641.1 L1060 642.2 L1075 641 L1090 640.8 L1105 642 L1120 640.7 L1135 640.5 L1150 641.7 L1165 640.5 L1180 640.2 L1195 641.4 L1210 640.2 L1225 640"/><path d="M760 683.8 L775 679.9 L790 675.7 L805 669.4 L820 665.2 L835 660.8 L850 657.7 L865 657.2 L880 656.6 L895 654 L910 654.1 L925 653.9 L940 651.8 L955 652.1 L970 652.6 L985 651.2 L1000 651.9 L1015 652.4 L1030 650.9 L1045 651.7 L1060 652.2 L1075 650.7 L1090 651.4 L1105 651.9 L1120 650.5 L1135 651.2 L1150 651.7 L1165 650.3 L1180 651 L1195 651.5 L1210 650 L1225 650.8"/><path d="M258 695 L266 696.2 L274 697.4 L282 698.6 L290 699.8 L298 701 L306 701.9 L314 702.1 L322 702.2 L330 702.4 L338 702.6 L346 702.8 L354 703 L362 703.1 L370 703.3 L378 703.5 L386 703.7 L394 703.8 L402 703.8 L410 703.9 L418 704 L426 704 L434 704.1 L442 704.1 L450 704.2 L458 704.2 L466 704.3 L474 704.4 L482 704.3 L490 704.3 L498 704.2 L506 704.2 L514 704.1 L522 704.1 L530 704.1 L538 704.1 L546 704.1 L554 704.2 L562 704.3 L570 704.2 L578 704 L586 703.7 L594 703.5 L602 703.4 L610 703.2 L618 702.6 L626 701.7 L634 700.8 L642 700.3 L650 699.6 L658 698.4 L666 696.5 L674 694.4 L682 692.7 L690 691.5 L698 690.2 L706 688.1 L714 685.4 L722 682.9 L730 680.9 L738 679.1 L746 676.9 L754 674 L760 671.6"/><path d="M258 695 L266 696.9 L274 698.8 L282 700.7 L290 702.7 L298 704.6 L306 706 L314 706.4 L322 706.9 L330 707.3 L338 707.7 L346 708.2 L354 708.6 L362 709 L370 709.5 L378 709.9 L386 710.4 L394 710.6 L402 710.7 L410 710.9 L418 711 L426 711.2 L434 711.3 L442 711.5 L450 711.6 L458 711.7 L466 711.9 L474 712 L482 711.9 L490 711.8 L498 711.7 L506 711.6 L514 711.5 L522 711.3 L530 711.2 L538 711.1 L546 710.9 L554 710.8 L562 710.6 L570 710.2 L578 709.6 L586 708.8 L594 708.2 L602 707.7 L610 707 L618 706 L626 704.8 L634 703.5 L642 702.7 L650 701.6 L658 700 L666 697.9 L674 695.5 L682 693.5 L690 692.1 L698 690.6 L706 688.4 L714 685.6 L722 683 L730 680.9 L738 679.1 L746 676.9 L754 674 L760 671.6"/><path d="M258 695 L266 697.6 L274 700.2 L282 702.9 L290 705.5 L298 708.1 L306 710.1 L314 710.8 L322 711.5 L330 712.2 L338 712.9 L346 713.6 L354 714.3 L362 715 L370 715.6 L378 716.3 L386 717 L394 717.4 L402 717.7 L410 717.9 L418 718.1 L426 718.3 L434 718.6 L442 718.8 L450 719 L458 719.2 L466 719.5 L474 719.7 L482 719.5 L490 719.3 L498 719.1 L506 719 L514 718.8 L522 718.6 L530 718.4 L538 718.1 L546 717.8 L554 717.4 L562 717 L570 716.1 L578 715.1 L586 714 L594 712.9 L602 712 L610 710.9 L618 709.5 L626 707.9 L634 706.3 L642 705 L650 703.6 L658 701.7 L666 699.2 L674 696.5 L682 694.3 L690 692.7 L698 691.1 L706 688.7 L714 685.8 L722 683.1 L730 681 L738 679.1 L746 676.9 L754 674 L760 671.6"/><path d="M258 695 L266 698.3 L274 701.7 L282 705 L290 708.3 L298 711.6 L306 714.2 L314 715.2 L322 716.1 L330 717.1 L338 718 L346 719 L354 719.9 L362 720.9 L370 721.8 L378 722.8 L386 723.7 L394 724.3 L402 724.6 L410 724.9 L418 725.2 L426 725.5 L434 725.8 L442 726.1 L450 726.4 L458 726.7 L466 727 L474 727.3 L482 727.1 L490 726.8 L498 726.6 L506 726.3 L514 726.1 L522 725.8 L530 725.6 L538 725.4 L546 725.1 L554 724.9 L562 724.6 L570 723.8 L578 722.9 L586 722 L594 721.3 L602 720.6 L610 719.7 L618 718.4 L626 717.2 L634 716.2 L642 715.5 L650 714.2 L658 712.2 L666 709.9 L674 707.8 L682 706.3 L690 705.1 L698 703.3 L706 700.8 L714 698.1 L722 696.1 L730 694.5 L738 692.4 L746 689.6 L754 686.2 L760 683.8"/><path d="M258 695 L266 699 L274 703.1 L282 707.1 L290 711.1 L298 715.2 L306 718.3 L314 719.5 L322 720.7 L330 721.9 L338 723.2 L346 724.4 L354 725.6 L362 726.8 L370 728 L378 729.2 L386 730.4 L394 731.1 L402 731.5 L410 731.9 L418 732.3 L426 732.7 L434 733 L442 733.4 L450 733.8 L458 734.2 L466 734.6 L474 735 L482 734.7 L490 734.4 L498 734.1 L506 733.7 L514 733.4 L522 733.1 L530 732.8 L538 732.4 L546 731.9 L554 731.5 L562 730.9 L570 729.7 L578 728.4 L586 727.1 L594 726 L602 724.9 L610 723.5 L618 721.9 L626 720.2 L634 718.9 L642 717.8 L650 716.2 L658 713.9 L666 711.3 L674 708.9 L682 707.1 L690 705.7 L698 703.7 L706 701.1 L714 698.3 L722 696.2 L730 694.5 L738 692.5 L746 689.7 L754 686.2 L760 683.8"/><path d="M258 695 L266 699.7 L274 704.5 L282 709.2 L290 714 L298 718.7 L306 722.4 L314 723.9 L322 725.4 L330 726.8 L338 728.3 L346 729.8 L354 731.2 L362 732.7 L370 734.1 L378 735.6 L386 737.1 L394 737.9 L402 738.4 L410 738.9 L418 739.3 L426 739.8 L434 740.3 L442 740.8 L450 741.2 L458 741.7 L466 742.2 L474 742.7 L482 742.3 L490 741.9 L498 741.5 L506 741.1 L514 740.7 L522 740.4 L530 739.9 L538 739.4 L546 738.8 L554 738.1 L562 737.3 L570 735.7 L578 733.9 L586 732.2 L594 730.7 L602 729.2 L610 727.4 L618 725.4 L626 723.3 L634 721.6 L642 720.2 L650 718.2 L658 715.5 L666 712.6 L674 710 L682 708 L690 706.3 L698 704.2 L706 701.4 L714 698.5 L722 696.3 L730 694.6 L738 692.5 L746 689.7 L754 686.2 L760 683.8"/><path d="M589 249 C593 255.8 607.8 259.8 613 290 C618.2 320.2 619.3 389.5 620 430 C620.7 470.5 616.5 509.7 617 533 C617.5 556.3 622 563.8 623 570"/><path d="M639 218 C642.2 230 653.9 254.7 658 290 C662.1 325.3 661.2 387.5 663.5 430 C665.8 472.5 671.6 515.3 672 545 C672.4 574.7 668.3 592.3 666 608 C663.7 623.7 663.2 628.7 658 639 C652.8 649.3 644.7 661.7 635 670 C625.3 678.3 619.2 684 600 689 C580.8 694 536.7 698.2 520 700 C503.3 701.8 508.3 699.6 500 699.5 C491.7 699.4 480 699.5 470 699.5 C460 699.5 450 699.5 440 699.5 C430 699.5 420 699.5 410 699.5 C400 699.5 385 699.5 380 699.5"/><path d="M712 204 C712.7 218.3 717.2 252.3 716 290 C714.8 327.7 705.7 390.8 705 430 C704.3 469.2 711.5 495.3 712 525 C712.5 554.7 710.8 587.3 708 608 C705.2 628.7 701.3 637.3 695 649 C688.7 660.7 682.5 669.5 670 678 C657.5 686.5 645 694.3 620 700 C595 705.7 540 710.1 520 712 C500 713.9 508.3 711.7 500 711.7 C491.7 711.6 480 712 470 712 C460 711.9 450 711.6 440 711.4 C430 711.2 420 711.1 410 710.9 C400 710.7 385 710.2 380 710"/><path d="M792 199 C788.8 214.2 779 251.5 773 290 C767 328.5 759.7 390.8 756 430 C752.3 469.2 752.8 495.3 751 525 C749.2 554.7 748.8 585.6 745 608 C741.2 630.4 736 645.8 728 659.5 C720 673.2 711.7 681.2 697 690 C682.3 698.8 666.2 706 640 712 C613.8 718 563.3 723.6 540 726 C516.7 728.4 511.7 726.3 500 726.5 C488.3 726.7 480 727.3 470 727.2 C460 727.1 450 726.4 440 726 C430 725.6 420 725.4 410 724.9 C400 724.4 385 723.3 380 723"/><path d="M876 196 C865.8 211.7 828.7 251 815 290 C801.3 329 798 390.8 794 430 C790 469.2 793 495.3 791 525 C789 554.7 786.2 585.6 782 608 C777.8 630.4 773.2 645.8 766 659.5 C758.8 673.2 753.3 680.8 739 690 C724.7 699.2 706.5 707.5 680 715 C653.5 722.5 610 730.6 580 735 C550 739.4 518.3 740.2 500 741.4 C481.7 742.7 480 742.6 470 742.4 C460 742.3 450 741.2 440 740.6 C430 740.1 420 739.6 410 738.9 C400 738.1 385 736.5 380 736"/><path d="M917 194 C911.7 203.3 894.2 234 885 250 C875.8 266 869.7 260 862 290 C854.3 320 843 390.8 839 430 C835 469.2 839.5 495.3 838 525 C836.5 554.7 833.8 587.2 830 608 C826.2 628.8 821.7 638 815 650 C808.3 662 802.5 670.8 790 680 C777.5 689.2 761.7 697 740 705 C718.3 713 673.3 724.2 660 728"/><path d="M955 191 C949.5 200.8 930 233.5 922 250 C914 266.5 912.5 275 907 290 C901.5 305 892.5 316.7 889 340 C885.5 363.3 887.2 399.2 886 430 C884.8 460.8 883.7 495.3 882 525 C880.3 554.7 878.7 584.7 876 608 C873.3 631.3 867.7 655.5 866 665"/><path d="M1005 187 C999.2 197.5 981.8 224.5 970 250 C958.2 275.5 941 311.7 934 340 C927 368.3 929.5 389.2 928 420 C926.5 450.8 926.3 493.7 925 525 C923.7 556.3 922.5 584.7 920 608 C917.5 631.3 911.7 655.5 910 665"/><path d="M1047 184 C1041.2 195 1023.5 224 1012 250 C1000.5 276 984.5 311.7 978 340 C971.5 368.3 976 389.8 973 420 C970 450.2 963.8 492 960 521 C956.2 550 952.3 570 950 594 C947.7 618 946.7 653.2 946 665"/><path d="M1089 180 C1082.8 191.7 1063.5 223.3 1052 250 C1040.5 276.7 1026.3 311.7 1020 340 C1013.7 368.3 1016.4 389.8 1014 420 C1011.6 450.2 1009.1 488 1005.7 521 C1002.3 554 997.6 594.5 993.6 618 C989.6 641.5 983.5 654.7 981.5 662"/><path d="M1137 175 C1129.8 187.5 1106.8 222.5 1094 250 C1081.2 277.5 1066.2 311.7 1060 340 C1053.8 368.3 1058.4 389.8 1057 420 C1055.6 450.2 1054.6 488 1051.7 521 C1048.8 554 1043.6 594.5 1039.6 618 C1035.6 641.5 1029.5 654.7 1027.5 662"/><path d="M1162 180 C1157.8 191.7 1147 223.3 1137 250 C1127 276.7 1108.2 311.7 1102 340 C1095.8 368.3 1099.5 389.8 1100 420 C1100.5 450.2 1107.4 488 1105 521 C1102.6 554 1091.4 594.5 1085.7 618 C1080 641.5 1073.5 654.7 1071 662"/><path d="M1182 192 C1179.8 201.7 1176.2 225.3 1169 250 C1161.8 274.7 1144 311.7 1139 340 C1134 368.3 1137.8 393.8 1139 420 C1140.2 446.2 1145.7 472 1146 497 C1146.3 522 1144.6 545.3 1141 570 C1137.4 594.7 1127.2 632.5 1124.4 645"/><path d="M1195 225 C1195.5 227.5 1201.2 220.8 1198 240 C1194.8 259.2 1179.5 310 1176 340 C1172.5 370 1174.7 401.7 1177 420 C1179.3 438.3 1186 437.2 1190 450 C1194 462.8 1198.9 489.2 1200.7 497"/><path d="M300 752 Q427 726 530 694"/><path d="M332 752 Q459 726 562 694"/></g><g clip-path="url(#cout)" fill="none" stroke="#231f20" stroke-width="2.7"><path d="M232 681 Q253.2 687.4 258 695"/><path d="M240.3 680.5 Q259.4 687.5 263.2 695.3"/><path d="M250.3 680 Q267 687.6 269.7 695.8"/><path d="M261.7 679.6 Q276 687.8 277.3 696.4"/><path d="M274.3 679.2 Q286.2 687.9 286.1 697"/><path d="M287.9 678.8 Q297.7 688.1 296 697.6"/><path d="M302.1 678.5 Q310.2 688.3 307 698.2"/><path d="M316.9 678.3 Q323.7 688.4 319 698.7"/><path d="M332 678 Q337.9 688.4 332 699"/><path d="M341.5 677.9 Q347.1 688.4 340.7 699.1"/><path d="M355.4 677.8 Q360.8 688.5 354 699.3"/><path d="M366.5 677.7 Q371.8 688.5 365 699.4"/><path d="M382 677.7 Q387.4 688.5 380.5 699.5"/><path d="M397.8 677.6 Q403.3 688.6 396.6 699.5"/><path d="M409.6 677.6 Q415.3 688.5 408.8 699.5"/><path d="M425.1 677.6 Q431.1 688.5 424.8 699.5"/><path d="M439.9 677.5 Q446.1 688.4 440 699.4"/><path d="M450.4 677.4 Q456.6 688.3 450.7 699.3"/><path d="M463.1 677.3 Q469.4 688.1 463.4 699.2"/><path d="M474 677 Q480.2 687.8 474 699"/><path d="M491.3 676.2 Q496.6 687 489.4 698.5"/><path d="M504.2 675.2 Q508.3 685.9 499.6 697.7"/><path d="M514.2 674.1 Q517 684.6 506.6 696.9"/><path d="M522.6 673 Q524.6 683.6 512.7 695.9"/><path d="M531 672 Q532.6 682.8 520 695"/><path d="M543.5 670.9 Q545.5 681.8 533.7 693.8"/><path d="M553.2 670 Q556.5 680.3 546.8 692.5"/><path d="M562 668 Q566.8 676.9 560 690"/><path d="M571.9 662.9 Q579.3 669.7 577.1 683.9"/><path d="M579 655 Q581.9 671.4 592 676"/><path d="M583.9 643.2 Q591.7 665.1 604.3 669.1"/><path d="M587 628 Q599 652.8 614 656"/><path d="M588.3 615.7 Q602.8 637.3 618.8 637.9"/><path d="M589 602 Q605.4 618.4 622.3 614.9"/><path d="M589 587 Q607 599.5 624.5 592"/><path d="M588.6 576.6 Q607.2 587.9 624.8 578.9"/><path d="M587.9 566.2 Q606.9 576.8 624 567.1"/><path d="M586.7 555.7 Q606 565.8 622.7 556"/><path d="M585 545 Q604.8 554.9 621 545"/><path d="M582.8 534 Q603.2 544.1 619.1 534.4"/><path d="M580.1 522.9 Q601.1 533.5 616.9 524.2"/><path d="M576.8 511.5 Q598.6 522.8 614.2 514"/><path d="M573 500 Q595.6 511.5 611 503"/><path d="M568.4 488.3 Q592 499.6 607.2 490.9"/><path d="M563.2 476.4 Q587.6 487.4 602.8 478.1"/><path d="M557.6 464.4 Q582.5 475 598 465"/><path d="M552 452 Q577.2 462.5 593 452"/><path d="M547.3 442 Q573.1 452.3 588.7 441.8"/><path d="M542.2 431.8 Q568.3 442.1 583.9 431.6"/><path d="M537.2 421.5 Q563.1 432.1 579.1 421.3"/><path d="M532.7 410.9 Q557.8 421.8 574.6 410.8"/><path d="M529 400 Q552.9 411.2 570.6 400"/><path d="M526.2 388.3 Q548.9 399.6 567.1 388.3"/><path d="M524.1 375.9 Q545.6 386.9 563.9 375.9"/><path d="M522.6 363.4 Q543 374.1 561.1 363.4"/><path d="M521.6 351.7 Q540.9 362.1 558.8 351.7"/><path d="M521 341.5 Q539.4 351.6 557 341.5"/><path d="M521 329 Q537.5 338.4 555.2 328.5"/><path d="M522.2 319.3 Q536.6 327.7 554.7 318.2"/><path d="M525 308 Q538 316.2 555.5 308"/><path d="M528 298.1 Q539.9 307.2 557 300.9"/><path d="M531.8 287.5 Q542.6 298.3 559.2 294.3"/><path d="M536.3 276.8 Q545.9 289.5 562.2 287.9"/><path d="M541.5 266.7 Q549.8 280.7 566 281"/><path d="M547.3 257.3 Q554.5 272 570.6 273.4"/><path d="M553.7 248.2 Q560 263 575.9 265.4"/><path d="M560.8 239.5 Q566.3 254.2 582 257.4"/><path d="M569 231 Q573.4 245.8 589 250"/><path d="M578.2 222.6 Q581.6 237.9 596.8 243"/><path d="M588.3 214.4 Q590.7 230.1 605.5 236.3"/><path d="M599.2 206.7 Q600.4 222.7 614.9 230.2"/><path d="M611 200 Q610.8 216.1 625 225"/><path d="M622.5 194.3 Q621.1 211.1 634.6 221"/><path d="M634.2 189.5 Q631.2 206.5 644.2 217.9"/><path d="M648 185.4 Q643.5 202.4 655.9 215.4"/><path d="M666 182 Q660.3 198.8 672 213"/><path d="M677.1 180.6 Q670.9 197.1 682.2 211.8"/><path d="M689.5 179.4 Q682.8 195.8 693.8 210.7"/><path d="M703 178.5 Q695.9 194.6 706.3 209.7"/><path d="M717.2 177.7 Q709.8 193.7 719.8 208.8"/><path d="M732 177 Q724.3 192.8 733.8 207.8"/><path d="M747.1 176.4 Q739.1 192 748.1 206.9"/><path d="M762.2 175.7 Q753.9 191.2 762.6 206"/><path d="M777 175 Q768.6 190.4 777 205"/><path d="M788.7 174.5 Q780.3 189.7 788.5 204.2"/><path d="M800.6 174 Q792.2 189 800.2 203.4"/><path d="M815.6 173.6 Q807.3 188.2 815.1 202.4"/><path d="M827.7 173.3 Q819.5 187.7 827.2 201.7"/><path d="M843 172.8 Q835 187 842.6 200.7"/><path d="M855.4 172.4 Q847.6 186.4 855.1 199.9"/><path d="M871.1 171.8 Q863.4 185.7 871 198.9"/><path d="M883.8 171.1 Q876.3 185 883.8 198"/><path d="M900 170 Q892.5 184.1 900 197"/><path d="M913.3 168.9 Q905.7 183.2 913.4 196.2"/><path d="M927.1 167.6 Q919.4 182.2 927.2 195.3"/><path d="M941.1 166.2 Q933.4 181.2 941.4 194.5"/><path d="M955.4 164.7 Q947.5 180.1 955.8 193.7"/><path d="M969.8 163.1 Q961.7 178.9 970.2 192.9"/><path d="M984 161.4 Q975.8 177.7 984.6 192"/><path d="M998.1 159.7 Q989.7 176.5 998.7 191.1"/><path d="M1011.9 158.1 Q1003.2 175.2 1012.4 190.1"/><path d="M1025.2 156.5 Q1016.3 173.9 1025.6 189.1"/><path d="M1038 155 Q1028.8 172.6 1038 188"/><path d="M1053.7 153.1 Q1044.2 170.9 1053.1 186.4"/><path d="M1069.6 151.1 Q1059.5 169 1068 184.5"/><path d="M1085.2 149.1 Q1074.7 166.9 1082.6 182.4"/><path d="M1100.4 147.1 Q1089.2 164.9 1096.6 180.2"/><path d="M1114.6 145.2 Q1102.9 162.9 1109.6 178.2"/><path d="M1127.7 143.5 Q1115.3 161.1 1121.6 176.4"/><path d="M1139.3 142.1 Q1126.3 159.6 1132.1 175"/><path d="M1149 141 Q1135.5 158.5 1141 174"/><path d="M1168.2 139.4 Q1153.5 156.4 1158.8 173.8"/><path d="M1177 141 Q1161.2 156.7 1166 177"/><path d="M1191.1 145.2 Q1173.1 159.5 1175.8 182.3"/><path d="M1204.5 153 Q1185 164.1 1184 190"/><path d="M1212.5 160.1 Q1191.9 169.5 1188.3 196.3"/><path d="M1220 168.9 Q1198.8 176.1 1192 203.6"/><path d="M1227 181 Q1206.4 185.3 1196 212"/><path d="M1230.4 189.5 Q1210.7 191.9 1198.4 216.6"/><path d="M1233.3 199.2 Q1214.3 199.6 1200.9 221.1"/><path d="M1235.9 209.6 Q1217.4 207.8 1203.4 225.8"/><path d="M1238.3 220.3 Q1220 216.4 1205.8 231.3"/><path d="M1240.5 231 Q1222.4 225.4 1208 238"/><path d="M1242.6 241.7 Q1224.6 234.8 1210.1 246.1"/><path d="M1244.6 252.6 Q1226.8 244.9 1212.1 255.3"/><path d="M1246.4 263.7 Q1228.8 255.5 1213.9 265.2"/><path d="M1247.9 274.9 Q1230.7 266.2 1215.6 275.6"/><path d="M1249 286 Q1232.3 277.1 1217 286"/><path d="M1249.8 297 Q1233.5 288 1218.2 296.6"/><path d="M1250.2 308 Q1234.5 299.1 1219.3 307.5"/><path d="M1250.4 319.1 Q1235.2 310.4 1220.1 318.7"/><path d="M1250.3 330.2 Q1235.6 321.9 1220.7 330.1"/><path d="M1250 341.5 Q1235.8 333.4 1221 341.5"/><path d="M1249.5 352.8 Q1235.7 344.8 1220.9 352.8"/><path d="M1248.6 364 Q1235.2 356.1 1220.5 364"/><path d="M1247.6 375.4 Q1234.4 367.7 1219.8 375.4"/><path d="M1246.6 387.3 Q1233.4 379.6 1219 387.3"/><path d="M1245.5 400 Q1232.3 392.3 1218 400"/><path d="M1244.9 408.5 Q1231.7 400.8 1217.4 408.5"/><path d="M1244.2 419.4 Q1230.9 411.7 1216.6 419.4"/><path d="M1243.4 430.7 Q1230.1 422.9 1215.7 430.7"/><path d="M1242.8 440.2 Q1229.4 432.4 1214.8 440.2"/><path d="M1241.9 451.6 Q1228.5 443.7 1213.7 451.6"/><path d="M1241 462.6 Q1227.5 454.7 1212.5 462.6"/><path d="M1240 473 Q1226.4 464.9 1211 473"/><path d="M1238.9 482.8 Q1225.1 474.6 1209.3 482.8"/><path d="M1237.4 493.8 Q1223.4 485.4 1207.1 493.8"/><path d="M1235.8 504.4 Q1221.6 495.7 1204.6 504.4"/><path d="M1234.4 513.2 Q1219.9 504.3 1202.4 513.2"/><path d="M1232.7 523.2 Q1217.8 514.1 1199.7 523.2"/><path d="M1231 533 Q1215.7 523.6 1197 533"/><path d="M1229 544 Q1213.3 534.3 1193.9 544"/><path d="M1226.9 554.6 Q1210.8 544.7 1190.8 554.6"/><path d="M1224.8 564.9 Q1208.4 554.7 1187.4 564.9"/><path d="M1222.5 574.7 Q1205.8 564.2 1183.9 574.7"/><path d="M1220 584 Q1203.1 573.2 1180 584"/><path d="M1216.8 594.5 Q1199.5 583.5 1174.7 594.9"/><path d="M1213.4 604 Q1195.7 592.9 1168.9 604.9"/><path d="M1209.5 613.2 Q1191.5 601.8 1162.7 614.3"/><path d="M1205 623 Q1186.5 610.7 1156 623"/><path d="M1200.6 631.7 Q1181.9 618.1 1150 629.6"/><path d="M1195.7 640.9 Q1176.7 625.6 1143.4 636"/><path d="M1190.4 650.1 Q1171.3 632.8 1136.6 641.8"/><path d="M1185.1 658.8 Q1166 639.5 1130 646.9"/><path d="M1180 666.5 Q1161.3 645.4 1124 651"/><path d="M1168.7 681.7 Q1151.6 656 1111.6 656.6"/><path d="M1156 693 Q1112.7 686 1100 659"/><path d="M1141.1 701 Q1097.6 687.2 1088.8 660.5"/><path d="M1120 706 Q1079.9 686 1075 661"/><path d="M1104.7 707.5 Q1068.5 685.4 1066 661.2"/><path d="M1086.7 708.3 Q1055.6 685.3 1055.9 661.3"/><path d="M1067.1 708.7 Q1040.9 685.3 1044.2 661.4"/><path d="M1047 709 Q1024.4 685.5 1030 661.5"/><path d="M1030.2 709.1 Q1009.1 685.3 1015.9 661.6"/><path d="M1012.3 708.9 Q992.1 685.1 999.5 661.6"/><path d="M994.1 708.7 Q974.5 685 982.1 661.6"/><path d="M976.4 708.7 Q957.3 685.3 965.2 661.7"/><path d="M960 709 Q941.6 686.1 950 662"/><path d="M941 710.1 Q924 687.4 933.9 662.5"/><path d="M923.1 711.8 Q907.7 688.9 919.4 663.2"/><path d="M906.7 713.5 Q892.4 690.3 905.8 664.1"/><path d="M892 715 Q878.1 691.3 892 665"/><path d="M869.9 716.9 Q852.9 693 864.3 666.4"/><path d="M851 719 Q829.9 696.3 837 670"/><path d="M832.6 721.2 Q807.6 702 809.3 679.1"/><path d="M809 726 Q783 711.2 781.5 690"/><path d="M795 729.9 Q771.3 715.4 770.8 693.8"/><path d="M778.8 735 Q758.6 719.8 760.6 697.6"/><path d="M761.2 740.6 Q744.8 724.4 750.2 701.4"/><path d="M743.3 746.1 Q730 728.9 738.9 705.2"/><path d="M726 751 Q714.6 733 726 709"/><path d="M709.4 755.3 Q698.8 737.1 711.2 713"/><path d="M692.8 759.4 Q682.3 741.1 694.8 717.3"/><path d="M676.2 763.3 Q665.4 744.9 677.5 721.5"/><path d="M659.6 766.8 Q648.5 748.4 660 725.4"/><path d="M643 770 Q631.7 751.5 643 729"/><path d="M626.4 772.9 Q615.2 754.5 626.4 732.2"/><path d="M609.9 775.6 Q598.7 757.1 609.9 735.1"/><path d="M593.4 777.9 Q582.3 759.2 593.4 737.7"/><path d="M576.8 779.8 Q565.7 760.9 576.8 740.1"/><path d="M560 781 Q549.1 762 560 742"/><path d="M543 781.5 Q532.4 762.7 543 743.6"/><path d="M525.8 781.5 Q515.5 763 525.8 744.9"/><path d="M508.5 780.9 Q498.7 763 508.5 745.8"/><path d="M491.2 780.1 Q481.8 762.7 491.2 746.4"/><path d="M474 779 Q464.9 762.2 474 746.5"/><path d="M457.2 777.8 Q448.2 761.3 456.9 746.2"/><path d="M440.6 776.3 Q431.7 760.1 440 745.6"/><path d="M424 774.6 Q415.1 758.6 423 744.5"/><path d="M406.9 772.5 Q398.3 756.7 406 743"/><path d="M389 770 Q381 754.3 389 741"/><path d="M374.4 767.8 Q367.2 752.2 375.8 739.2"/><path d="M356 764.8 Q350.1 749.4 359.8 736.8"/><path d="M337.2 761.5 Q332.7 746.3 343.8 734"/><path d="M321.3 758.6 Q318 743.4 330.5 731.3"/><path d="M304.1 755.2 Q301.9 739.8 316.1 727.8"/><path d="M289 752 Q287.6 736.1 303.5 724"/><path d="M266.5 746.4 Q265.5 727.7 284.1 714.4"/><path d="M248.6 740.9 Q247.5 718.3 269 703.5"/><path d="M233 735 Q257.7 720.1 258 695"/><path d="M221.5 729.5 Q250.1 718.1 254.6 692.9"/><path d="M213.3 723.9 Q246.2 718.1 256.2 693.8"/><path d="M207 718 Q242.7 718.4 258 695"/><path d="M203 701 Q227.3 713.2 258 695"/><path d="M213 687 Q225.1 698.5 258 695"/><path d="M216.9 683.3 Q225.6 693.8 253.4 694.8"/></g><path d="M232 681 C251.8 679.5 291.7 678.7 332 678 C372.3 677.3 440.8 678 474 677 C507.2 676 516.3 673.5 531 672 C545.7 670.5 554 670.8 562 668 C570 665.2 574.8 661.7 579 655 C583.2 648.3 585.3 639.3 587 628 C588.7 616.7 589.3 600.8 589 587 C588.7 573.2 587.7 559.5 585 545 C582.3 530.5 578.5 515.5 573 500 C567.5 484.5 559.3 468.7 552 452 C544.7 435.3 534.2 418.4 529 400 C523.8 381.6 521.7 356.8 521 341.5 C520.3 326.2 521.6 320.5 525 308 C528.4 295.5 534.2 279.5 541.5 266.7 C548.8 253.9 557.4 242.1 569 231 C580.6 219.9 594.8 208.2 611 200 C627.2 191.8 638.3 186.2 666 182 C693.7 177.8 738 177 777 175 C816 173 856.5 173.3 900 170 C943.5 166.7 996.5 159.8 1038 155 C1079.5 150.2 1125.8 143.3 1149 141 C1172.2 138.7 1167.8 139 1177 141 C1186.2 143 1196.2 146.3 1204.5 153 C1212.8 159.7 1221 168 1227 181 C1233 194 1236.8 213.5 1240.5 231 C1244.2 248.5 1247.4 267.6 1249 286 C1250.6 304.4 1250.6 322.5 1250 341.5 C1249.4 360.5 1247.2 378.1 1245.5 400 C1243.8 421.9 1242.4 450.8 1240 473 C1237.6 495.2 1234.3 514.5 1231 533 C1227.7 551.5 1224.3 569 1220 584 C1215.7 599 1211.7 609.2 1205 623 C1198.3 636.8 1188.2 654.8 1180 666.5 C1171.8 678.2 1166 686.4 1156 693 C1146 699.6 1138.2 703.3 1120 706 C1101.8 708.7 1073.7 708.5 1047 709 C1020.3 709.5 985.8 708 960 709 C934.2 710 910.2 713.3 892 715 C873.8 716.7 864.8 717.2 851 719 C837.2 720.8 829.8 720.7 809 726 C788.2 731.3 753.7 743.7 726 751 C698.3 758.3 670.7 765 643 770 C615.3 775 588.2 779.5 560 781 C531.8 782.5 502.5 780.8 474 779 C445.5 777.2 419.8 774.5 389 770 C358.2 765.5 315 757.8 289 752 C263 746.2 246.7 740.7 233 735 C219.3 729.3 212 723.7 207 718 C202 712.3 202 706.2 203 701 C204 695.8 208.2 690.3 213 687 C217.8 683.7 212.2 682.5 232 681Z" fill="none" stroke="#231f20" stroke-width="2.9"/><path d="M258 695 C262.8 690.8 296 698.3 332 699 C368 699.7 442.7 699.7 474 699 C505.3 698.3 505.7 696.5 520 695 C534.3 693.5 548 693.2 560 690 C572 686.8 583 681.7 592 676 C601 670.3 608.6 670 614 656 C619.4 642 623.3 610.5 624.5 592 C625.7 573.5 623.2 559.8 621 545 C618.8 530.2 615.7 518.5 611 503 C606.3 487.5 599.7 469.2 593 452 C586.3 434.8 576.6 418.4 570.6 400 C564.6 381.6 559.5 356.8 557 341.5 C554.5 326.2 554 318.1 555.5 308 C557 297.9 560.4 290.7 566 281 C571.6 271.3 579.2 259.3 589 250 C598.8 240.7 611.2 231.2 625 225 C638.8 218.8 646.7 216.3 672 213 C697.3 209.7 739 207.7 777 205 C815 202.3 856.5 199.8 900 197 C943.5 194.2 997.8 191.8 1038 188 C1078.2 184.2 1119.7 175.8 1141 174 C1162.3 172.2 1158.8 174.3 1166 177 C1173.2 179.7 1179 184.2 1184 190 C1189 195.8 1192 204 1196 212 C1200 220 1204.5 225.7 1208 238 C1211.5 250.3 1214.8 268.8 1217 286 C1219.2 303.2 1220.8 322.5 1221 341.5 C1221.2 360.5 1219.7 378.1 1218 400 C1216.3 421.9 1214.5 450.8 1211 473 C1207.5 495.2 1202.2 514.5 1197 533 C1191.8 551.5 1186.8 569 1180 584 C1173.2 599 1165.3 611.8 1156 623 C1146.7 634.2 1133.3 645 1124 651 C1114.7 657 1108.2 657.3 1100 659 C1091.8 660.7 1086.7 660.6 1075 661 C1063.3 661.4 1050.8 661.3 1030 661.5 C1009.2 661.7 973 661.4 950 662 C927 662.6 910.8 663.7 892 665 C873.2 666.3 855.4 665.8 837 670 C818.6 674.2 800 683.5 781.5 690 C763 696.5 749.1 702.5 726 709 C702.9 715.5 670.7 723.5 643 729 C615.3 734.5 588.2 739.1 560 742 C531.8 744.9 502.5 746.7 474 746.5 C445.5 746.3 417.4 744.8 389 741 C360.6 737.2 325.3 731.7 303.5 724 C281.7 716.3 253.2 699.2 258 695Z" fill="none" stroke="#231f20" stroke-width="2.7"/><path d="M542.6 784 L640.8 1523 Q643 1531 649 1531 Q659 1531 659.5 1521.5 L563.3 780.6" fill="none" stroke="#231f20" stroke-width="2.8" stroke-linejoin="round"/><path d="M840 717 Q878 724 881.5 755 L881.8 1932 Q893 1941 906 1932.6 L906.4 770 Q906 720 891.9 712.8" fill="none" stroke="#231f20" stroke-width="2.8" stroke-linejoin="round"/><path d="M1091 708.7 L1202.7 1630 Q1212 1640 1224.8 1629.3 L1110 708.7" fill="none" stroke="#231f20" stroke-width="2.8" stroke-linejoin="round"/><path d="M604 1180 C598 1192 589 1202 571 1208.5 L234 1323" fill="none" stroke="#231f20" stroke-width="17" stroke-linecap="round" stroke-linejoin="round"/><path d="M604 1180 C598 1192 589 1202 571 1208.5 L234 1323" fill="none" stroke="#fff" stroke-width="11.5" stroke-linecap="round" stroke-linejoin="round"/><path d="M248.4 741 L222.2 1779 Q229 1787 235 1785 L245.4 1777 L271 748" fill="#fff" stroke="#231f20" stroke-width="2.8" stroke-linejoin="round"/><path d="M234 1323 C214 1329 210 1331 210 1334.5 C210 1339 216 1341 234 1343.6 L880 1456.5 C900 1459.5 925 1462 940 1450 L1094 1296 C1110 1282 1130 1276 1168 1268" fill="none" stroke="#231f20" stroke-width="17" stroke-linecap="butt" stroke-linejoin="round"/><path d="M1166 1268.4 L1168 1268" fill="none" stroke="#231f20" stroke-width="17" stroke-linecap="round" stroke-linejoin="round"/><path d="M234 1323 C214 1329 210 1331 210 1334.5 C210 1339 216 1341 234 1343.6 L880 1456.5 C900 1459.5 925 1462 940 1450 L1094 1296 C1110 1282 1130 1276 1168 1268" fill="none" stroke="#fff" stroke-width="11.5" stroke-linecap="butt" stroke-linejoin="round"/><path d="M1166 1268.4 L1168 1268" fill="none" stroke="#fff" stroke-width="11.5" stroke-linecap="round" stroke-linejoin="round"/><line x1="412.5" y1="31" x2="29.6" y2="619" stroke="#000" stroke-width="3.5"/><path d="M412.5 31 L410.7 66.8 L380.5 47.2 Z" fill="none" stroke="#000" stroke-width="3.5" stroke-linejoin="miter"/><path d="M29.6 619 L31.4 583.2 L61.6 602.8 Z" fill="none" stroke="#000" stroke-width="3.5" stroke-linejoin="miter"/><line x1="584.5" y1="109.8" x2="1264.3" y2="94.4" stroke="#000" stroke-width="3.5"/><path d="M584.5 109.8 L615.1 91.1 L615.9 127.1 Z" fill="none" stroke="#000" stroke-width="3.5" stroke-linejoin="miter"/><path d="M1264.3 94.4 L1233.7 113.1 L1232.9 77.1 Z" fill="none" stroke="#000" stroke-width="3.5" stroke-linejoin="miter"/><line x1="1363.8" y1="144" x2="1363.6" y2="1625.3" stroke="#000" stroke-width="3.5"/><path d="M1363.8 144 L1381.8 175 L1345.8 175 Z" fill="none" stroke="#000" stroke-width="3.5" stroke-linejoin="miter"/><path d="M1363.6 1625.3 L1345.6 1594.3 L1381.6 1594.3 Z" fill="none" stroke="#000" stroke-width="3.5" stroke-linejoin="miter"/><line x1="466.4" y1="187.3" x2="488.3" y2="656.7" stroke="#000" stroke-width="3.5"/><path d="M466.4 187.3 L485.8 217.4 L449.9 219.1 Z" fill="none" stroke="#000" stroke-width="3.5" stroke-linejoin="miter"/><path d="M488.3 656.7 L468.9 626.6 L504.8 624.9 Z" fill="none" stroke="#000" stroke-width="3.5" stroke-linejoin="miter"/><line x1="193.7" y1="657.3" x2="567.2" y2="645" stroke="#000" stroke-width="3.5"/><path d="M193.7 657.3 L224.1 638.3 L225.3 674.3 Z" fill="none" stroke="#000" stroke-width="3.5" stroke-linejoin="miter"/><path d="M567.2 645 L536.8 664 L535.6 628 Z" fill="none" stroke="#000" stroke-width="3.5" stroke-linejoin="miter"/><line x1="51.6" y1="779" x2="735.2" y2="829.8" stroke="#000" stroke-width="3.5"/><path d="M51.6 779 L83.8 763.3 L81.2 799.2 Z" fill="none" stroke="#000" stroke-width="3.5" stroke-linejoin="miter"/><path d="M735.2 829.8 L703 845.5 L705.6 809.6 Z" fill="none" stroke="#000" stroke-width="3.5" stroke-linejoin="miter"/><line x1="30.4" y1="788" x2="245.6" y2="654.4" stroke="#000" stroke-width="3.5"/><line x1="683.3" y1="864.3" x2="955.6" y2="674.5" stroke="#000" stroke-width="3.5"/><line x1="462.6" y1="753.7" x2="456.5" y2="1886" stroke="#000" stroke-width="3.5"/><path d="M462.6 753.7 L480.4 784.8 L444.4 784.6 Z" fill="none" stroke="#000" stroke-width="3.5" stroke-linejoin="miter"/><path d="M456.5 1886 L438.7 1854.9 L474.7 1855.1 Z" fill="none" stroke="#000" stroke-width="3.5" stroke-linejoin="miter"/><line x1="536.3" y1="791.4" x2="536" y2="1391" stroke="#000" stroke-width="3.5"/><path d="M536.3 791.4 L554.3 822.4 L518.3 822.4 Z" fill="none" stroke="#000" stroke-width="3.5" stroke-linejoin="miter"/><path d="M536 1391 L518 1360 L554 1360 Z" fill="none" stroke="#000" stroke-width="3.5" stroke-linejoin="miter"/><line x1="533" y1="1410.3" x2="529.6" y2="1898.7" stroke="#000" stroke-width="3.5"/><path d="M533 1410.3 L550.8 1441.4 L514.8 1441.2 Z" fill="none" stroke="#000" stroke-width="3.5" stroke-linejoin="miter"/><path d="M529.6 1898.7 L511.8 1867.6 L547.8 1867.8 Z" fill="none" stroke="#000" stroke-width="3.5" stroke-linejoin="miter"/><line x1="161.7" y1="1377.8" x2="897.7" y2="1517" stroke="#000" stroke-width="3.5"/><path d="M161.7 1377.8 L195.5 1365.9 L188.8 1401.2 Z" fill="none" stroke="#000" stroke-width="3.5" stroke-linejoin="miter"/><path d="M897.7 1517 L863.9 1528.9 L870.6 1493.6 Z" fill="none" stroke="#000" stroke-width="3.5" stroke-linejoin="miter"/><line x1="136.6" y1="1893.6" x2="828.1" y2="2058.2" stroke="#000" stroke-width="3.5"/><path d="M136.6 1893.6 L170.9 1883.3 L162.6 1918.3 Z" fill="none" stroke="#000" stroke-width="3.5" stroke-linejoin="miter"/><path d="M828.1 2058.2 L793.8 2068.5 L802.1 2033.5 Z" fill="none" stroke="#000" stroke-width="3.5" stroke-linejoin="miter"/><line x1="1303.3" y1="1673.9" x2="1028.7" y2="2036.4" stroke="#000" stroke-width="3.5"/><path d="M1303.3 1673.9 L1298.9 1709.5 L1270.2 1687.7 Z" fill="none" stroke="#000" stroke-width="3.5" stroke-linejoin="miter"/><path d="M1028.7 2036.4 L1033.1 2000.8 L1061.8 2022.6 Z" fill="none" stroke="#000" stroke-width="3.5" stroke-linejoin="miter"/><g transform="translate(922 73.3) rotate(0)" font-size="45" fill="#000"><text x="-33" y="0">2</text><text x="-8" y="0">0</text><text x="17" y="0">&quot;</text></g><g transform="translate(210.7 286.8) rotate(-57)" font-size="45" fill="#000"><text x="-33" y="0">2</text><text x="-8" y="0">4</text><text x="17" y="0">&quot;</text></g><g transform="translate(461 396) rotate(-90)" font-size="45" fill="#000"><path d="M-16.2 0 L-16.2 -32.2 L-19 -32.2 L-20.9 -30.1 L-24 -27.4 L-28.1 -24.9 L-28.1 -20.8 L-25.1 -22.2 L-22.4 -23.9 L-20.2 -25.7 L-20.2 0Z"/><text x="-8" y="0">5</text><text x="17" y="0">&quot;</text></g><g transform="translate(373 622.8) rotate(0)" font-size="45" fill="#000"><path d="M-16.2 0 L-16.2 -32.2 L-19 -32.2 L-20.9 -30.1 L-24 -27.4 L-28.1 -24.9 L-28.1 -20.8 L-25.1 -22.2 L-22.4 -23.9 L-20.2 -25.7 L-20.2 0Z"/><text x="-8" y="0">5</text><text x="17" y="0">&quot;</text></g><g transform="translate(333 855.4) rotate(0)" font-size="45" fill="#000"><path d="M-47.5 0 L-47.5 -32.2 L-50.2 -32.2 L-52.1 -30.1 L-55.3 -27.4 L-59.4 -24.9 L-59.4 -20.8 L-56.4 -22.2 L-53.7 -23.9 L-51.5 -25.7 L-51.5 0Z"/><text x="-39.3" y="0">7</text><text x="-14.2" y="0">.</text><text x="-1.7" y="0">7</text><text x="23.3" y="0">5</text><text x="48.3" y="0">&quot;</text></g><g transform="translate(1416 834.7) rotate(-90)" font-size="45" fill="#000"><text x="-51.8" y="0">4</text><path d="M-10 0 L-10 -32.2 L-12.7 -32.2 L-14.6 -30.1 L-17.8 -27.4 L-21.8 -24.9 L-21.8 -20.8 L-18.9 -22.2 L-16.2 -23.9 L-13.9 -25.7 L-13.9 0Z"/><text x="-1.7" y="0">.</text><text x="10.8" y="0">5</text><text x="35.8" y="0">&quot;</text></g><g transform="translate(522.6 1068) rotate(-90)" font-size="45" fill="#000"><path d="M-47.5 0 L-47.5 -32.2 L-50.2 -32.2 L-52.1 -30.1 L-55.3 -27.4 L-59.4 -24.9 L-59.4 -20.8 L-56.4 -22.2 L-53.7 -23.9 L-51.5 -25.7 L-51.5 0Z"/><text x="-39.3" y="0">8</text><text x="-14.2" y="0">.</text><text x="-1.7" y="0">7</text><text x="23.3" y="0">5</text><text x="48.3" y="0">&quot;</text></g><g transform="translate(445 1150.5) rotate(-90)" font-size="45" fill="#000"><text x="-33" y="0">3</text><text x="-8" y="0">0</text><text x="17" y="0">&quot;</text></g><g transform="translate(366.5 1471.5) rotate(10.7)" font-size="45" fill="#000"><text x="-64.3" y="0">2</text><text x="-39.3" y="0">2</text><text x="-14.2" y="0">.</text><text x="-1.7" y="0">2</text><text x="23.3" y="0">5</text><text x="48.3" y="0">&quot;</text></g><g transform="translate(587.2 1676) rotate(-90)" font-size="45" fill="#000"><path d="M-12.5 0 L-12.5 -32.2 L-15.3 -32.2 L-17.2 -30.1 L-20.3 -27.4 L-24.4 -24.9 L-24.4 -20.8 L-21.4 -22.2 L-18.7 -23.9 L-16.5 -25.7 L-16.5 0Z"/><text x="-4.3" y="0">2</text><text x="20.7" y="0">&#39;</text></g><g transform="translate(439 2022) rotate(14)" font-size="45" fill="#000"><text x="-33" y="0">2</text><path d="M8.8 0 L8.8 -32.2 L6.1 -32.2 L4.2 -30.1 L1 -27.4 L-3.1 -24.9 L-3.1 -20.8 L-0.1 -22.2 L2.6 -23.9 L4.8 -25.7 L4.8 0Z"/><text x="17" y="0">&quot;</text></g><g transform="translate(1201.5 1897.5) rotate(-52)" font-size="45" fill="#000"><text x="-33" y="0">2</text><path d="M8.8 0 L8.8 -32.2 L6.1 -32.2 L4.2 -30.1 L1 -27.4 L-3.1 -24.9 L-3.1 -20.8 L-0.1 -22.2 L2.6 -23.9 L4.8 -25.7 L4.8 0Z"/><text x="17" y="0">&quot;</text></g></svg></body></html>
